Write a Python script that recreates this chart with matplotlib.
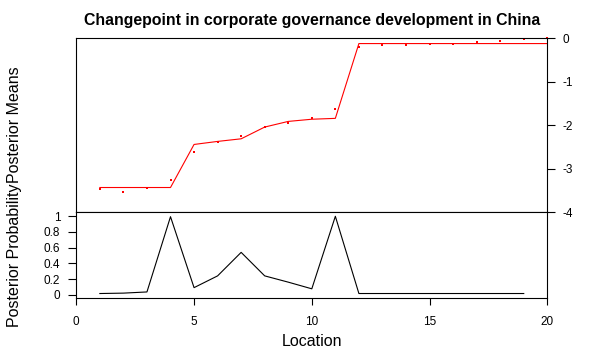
import matplotlib
matplotlib.use("Agg")
import matplotlib.pyplot as plt
import numpy as np

plt.rcParams['font.family'] = ['Liberation Sans', 'DejaVu Sans']
plt.rcParams['axes.unicode_minus'] = False

# data
location = np.arange(1, 21)
observed = [-3.46, -3.53, -3.45, -3.26, -2.61, -2.38, -2.25, -2.05, -1.94, -1.83,
            -1.63, -0.19, -0.15, -0.15, -0.13, -0.13, -0.085, -0.06, -0.016, 0.01]
post_mean = [-3.43, -3.43, -3.43, -3.43, -2.44, -2.37, -2.31, -2.04, -1.91, -1.86,
             -1.84, -0.12, -0.12, -0.12, -0.12, -0.12, -0.12, -0.12, -0.12, -0.12]
post_prob = [0.015, 0.02, 0.035, 0.995, 0.09, 0.24, 0.54, 0.24, 0.16, 0.075,
             1.0, 0.015, 0.015, 0.015, 0.015, 0.015, 0.015, 0.015, 0.015]

W, H = 602, 359
fig = plt.figure(figsize=(W / 100, H / 100), dpi=100)

left, right = 76.3, 547.3
def box(top, bottom):
    return [left / W, 1 - bottom / H, (right - left) / W, (bottom - top) / H]

ax1 = fig.add_axes(box(38.0, 212.3))
ax2 = fig.add_axes(box(212.3, 298.3), sharex=ax1)

lw = 0.8
for ax in (ax1, ax2):
    for s in ax.spines.values():
        s.set_linewidth(lw)

# top panel: posterior means
ax1.plot(location, post_mean, color='red', lw=lw)
ax1.plot(location, observed, 's', color='red', ms=1.8, mew=0, clip_on=False)
ax1.set_ylim(-4, 0.008)
ax1.set_yticks([0, -1, -2, -3, -4])
ax1.yaxis.tick_right()
ax1.tick_params(axis='y', length=6, width=lw, pad=5, labelsize=8.5)
ax1.tick_params(axis='x', bottom=False, labelbottom=False)
ax1.set_title('Changepoint in corporate governance development in China',
              fontsize=11.4, fontweight='bold', pad=9)
ax1.set_ylabel('Posterior Means', fontsize=11.5)
ax1.yaxis.set_label_position('left')
ax1.yaxis.set_label_coords(-0.115, 0.5)

# bottom panel: posterior probability
ax2.plot(location[:-1], post_prob, color='black', lw=lw)
ax2.set_xlim(0, 20)
ax2.set_ylim(-0.046, 1.051)
ax2.set_yticks([0, 0.2, 0.4, 0.6, 0.8, 1])
ax2.set_yticklabels(['0', '0.2', '0.4', '0.6', '0.8', '1'])
ax2.set_xticks([0, 5, 10, 15, 20])
ax2.tick_params(axis='y', length=6, width=lw, pad=5.5, labelsize=8.5)
ax2.tick_params(axis='x', length=5, width=lw, pad=8, labelsize=8.5)
ax2.set_xlabel('Location', fontsize=11.5, labelpad=4)
ax2.set_ylabel('Posterior Probability', fontsize=11.5)
ax2.yaxis.set_label_coords(-0.115, 0.5)

fig.savefig('out.png', dpi=100)
